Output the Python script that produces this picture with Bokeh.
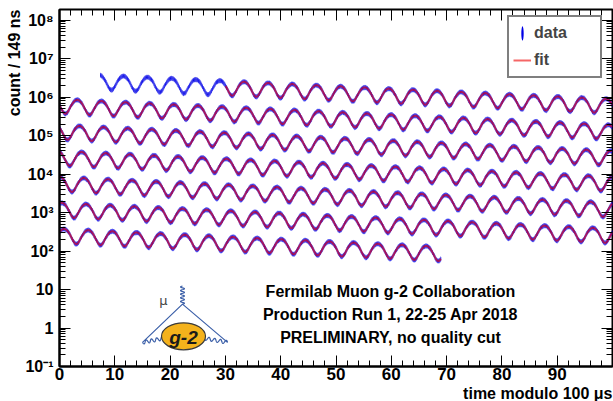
import math
import numpy as np
from bokeh.plotting import figure
from bokeh.models import (Range1d, FixedTicker, CustomJSTickFormatter, LinearAxis, LogAxis,
                          Label, Legend, LegendItem, Title)
from bokeh.embed import file_html
from bokeh.resources import INLINE

# ---------------- data (fit parameters) ----------------
fit_N0 = 3.0e6          # counts / 149 ns extrapolated to t = 0
fit_tau = 64.4          # dilated muon lifetime [us]
fit_asym = 0.41         # g-2 asymmetry
fit_period = 4.365      # omega_a period [us]
fit_phase = 0.65        # position of a crest, as fraction of a period
bin_width = 0.149       # [us]
data_start = 7.4        # first plotted data bin [us]
fit_start = 30.0        # start of fit [us]
data_end = 669.0        # last data bin [us]
wrap = 100.0            # time modulo [us]

x_tick_values = [0, 10, 20, 30, 40, 50, 60, 70, 80, 90, 100]
x_tick_labels = ["0", "10", "20", "30", "40", "50", "60", "70", "80", "90", ""]
y_tick_values = [1e-1, 1e0, 1e1, 1e2, 1e3, 1e4, 1e5, 1e6, 1e7, 1e8]
y_tick_labels = ["10\u207b\u00b9", "1", "10", "10\u00b2", "10\u00b3", "10\u2074",
                 "10\u2075", "10\u2076", "10\u2077", "10\u2078"]
legend_labels = ["data", "fit"]
info_lines = ["Fermilab Muon g-2 Collaboration",
              "Production Run 1, 22-25 Apr 2018",
              "PRELIMINARY, no quality cut"]
x_title = "time modulo 100 \u03bcs"
y_title = "count / 149 ns"

# ---------------- derived series ----------------
n_bins = int(round((data_end - data_start) / bin_width)) + 1
t = data_start + bin_width * np.arange(n_bins)
counts = fit_N0 * np.exp(-t / fit_tau) * (1 + fit_asym * np.cos(2 * np.pi * (t / fit_period - fit_phase)))
t_mod = np.mod(t, wrap)
row = np.floor(t / wrap).astype(int)

fit_xs, fit_ys = [], []
sel_fit = t >= fit_start
for r in np.unique(row[sel_fit]):
    m = sel_fit & (row == r)
    fit_xs.append(list(t_mod[m]))
    fit_ys.append(list(counts[m]))

# ---------------- figure ----------------
FONT = "Liberation Sans"
YMAX = 1.9e8
p = figure(width=613, height=401, output_backend="svg", toolbar_location=None,
           x_range=Range1d(0, 100), y_range=Range1d(0.1, YMAX), y_axis_type="log",
           min_border_left=59, min_border_right=1, min_border_top=9, min_border_bottom=35)
p.grid.visible = False
p.outline_line_color = "black"
p.outline_line_width = 2
p.background_fill_color = "white"
p.border_fill_color = "white"

# frame geometry in page pixels (for placing decorations)
FX0, FX1, FY0, FY1 = 59.0, 612.0, 9.0, 364.0
LLO, LHI = math.log10(0.1), math.log10(YMAX)


def px2x(px):
    return (px - FX0) / (FX1 - FX0) * 100.0


def py2y(py):
    return 10 ** (LHI - (py - FY0) / (FY1 - FY0) * (LHI - LLO))


x_minor = list(range(0, 101, 2))
y_minor = [k * 10.0 ** d for d in range(-1, 9) for k in range(2, 10)]

fmt_x = CustomJSTickFormatter(args=dict(vals=x_tick_values, labels=x_tick_labels), code="""
const i = vals.findIndex(v => Math.abs(v - tick) < 1e-6);
return i >= 0 ? labels[i] : '';
""")
fmt_y = CustomJSTickFormatter(args=dict(vals=y_tick_values, labels=y_tick_labels), code="""
const i = vals.findIndex(v => Math.abs(Math.log10(v) - Math.log10(tick)) < 1e-6);
return i >= 0 ? labels[i] : '';
""")
fmt_none = CustomJSTickFormatter(code="return '';")


def style_axis(ax, label_size):
    ax.major_tick_in = 11
    ax.major_tick_out = 0
    ax.minor_tick_in = 6
    ax.minor_tick_out = 0
    ax.major_tick_line_color = "black"
    ax.minor_tick_line_color = "black"
    ax.major_tick_line_width = 1
    ax.minor_tick_line_width = 1
    ax.axis_line_color = "black"
    ax.axis_line_width = 2
    ax.major_label_text_font = FONT
    ax.major_label_text_font_style = "bold"
    ax.major_label_text_font_size = label_size
    ax.major_label_text_color = "black"


xa = p.xaxis[0]
xa.ticker = FixedTicker(ticks=x_tick_values, minor_ticks=x_minor)
xa.formatter = fmt_x
style_axis(xa, "17px")
xa.major_label_standoff = 1

ya = p.yaxis[0]
ya.ticker = FixedTicker(ticks=y_tick_values, minor_ticks=y_minor)
ya.formatter = fmt_y
style_axis(ya, "16px")
ya.major_label_standoff = 6

top_ax = LinearAxis(ticker=FixedTicker(ticks=x_tick_values, minor_ticks=x_minor), formatter=fmt_none)
style_axis(top_ax, "0px")
top_ax.major_label_standoff = 0
top_ax.axis_line_color = None
p.add_layout(top_ax, "above")

right_ax = LogAxis(ticker=FixedTicker(ticks=y_tick_values, minor_ticks=y_minor), formatter=fmt_none)
style_axis(right_ax, "0px")
right_ax.major_label_standoff = 0
right_ax.axis_line_color = None
p.add_layout(right_ax, "right")

# axis titles (right / top aligned as in the reference)
p.add_layout(Title(text=x_title, align="right", text_font=FONT, text_font_style="bold",
                   text_font_size="16px", text_color="black", standoff=0, offset=0), "below")
p.add_layout(Title(text=y_title, align="right", text_font=FONT, text_font_style="bold",
                   text_font_size="16px", text_color="black", standoff=0, offset=0), "left")

# ---------------- data + fit ----------------
# data: thin vertical bars (one per 149 ns bin)
data_r = p.ellipse(x=t_mod, y=counts, width=0.9, height=5.5, width_units="screen",
                   height_units="screen", fill_color="#0000e6", line_color=None)
fit_r = p.multi_line(xs=fit_xs, ys=fit_ys, line_color="#ee0000", line_width=2.0, line_alpha=0.6)

legend = Legend(items=[LegendItem(label=legend_labels[0], renderers=[data_r]),
                       LegendItem(label=legend_labels[1], renderers=[fit_r])],
                location=(448, 288))
legend.border_line_color = "black"
legend.border_line_width = 2
legend.background_fill_color = "white"
legend.background_fill_alpha = 1.0
legend.label_text_font = FONT
legend.label_text_font_style = "bold"
legend.label_text_font_size = "16px"
legend.glyph_width = 18
legend.glyph_height = 24
legend.label_height = 24
legend.label_width = 62
legend.padding = 4
legend.spacing = 3
legend.label_standoff = 3
legend.margin = 0
p.add_layout(legend)

# ---------------- texts ----------------
for i, line in enumerate(info_lines):
    p.add_layout(Label(x=px2x(390), y=py2y(289 + 23 * i), text=line, text_align="center",
                       text_baseline="middle", text_font=FONT, text_font_style="bold",
                       text_font_size="16px", text_color="black"))

# ---------------- g-2 logo ----------------
LOGO_BLUE = "#3b5fa8"


def page_line(pxs, pys, **kw):
    p.line(x=[px2x(a) for a in pxs], y=[py2y(b) for b in pys], **kw)


def wavy(x0, y0, x1, y1, cycles, amp):
    s = np.linspace(0, 1, 80)
    dx, dy = x1 - x0, y1 - y0
    L = math.hypot(dx, dy)
    nx, ny = -dy / L, dx / L
    off = amp * np.sin(2 * np.pi * cycles * s)
    page_line(x0 + dx * s + nx * off, y0 + dy * s + ny * off, line_color=LOGO_BLUE, line_width=1.2)


page_line([142, 182, 227], [340, 302, 340], line_color=LOGO_BLUE, line_width=1.2)
wavy(182, 302, 182, 284, 5, 2.0)
wavy(142, 340, 163, 336, 4, 1.8)
wavy(204, 336, 227, 340, 4, 1.8)
p.ellipse(x=[px2x(183)], y=[py2y(334)], width=44, height=27, width_units="screen",
          height_units="screen", fill_color="#f4b21c", line_color="#3a3a3a", line_width=1.2)
p.add_layout(Label(x=px2x(183), y=py2y(335), text="g-2", text_align="center", text_baseline="middle",
                   text_font=FONT, text_font_style="bold italic", text_font_size="19px",
                   text_color="#1a1a1a"))
p.add_layout(Label(x=px2x(163), y=py2y(298), text="\u03bc", text_align="center", text_baseline="middle",
                   text_font="DejaVu Sans", text_font_size="13px", text_color="#444444"))

open("out.html", "w").write(file_html(p, INLINE))
